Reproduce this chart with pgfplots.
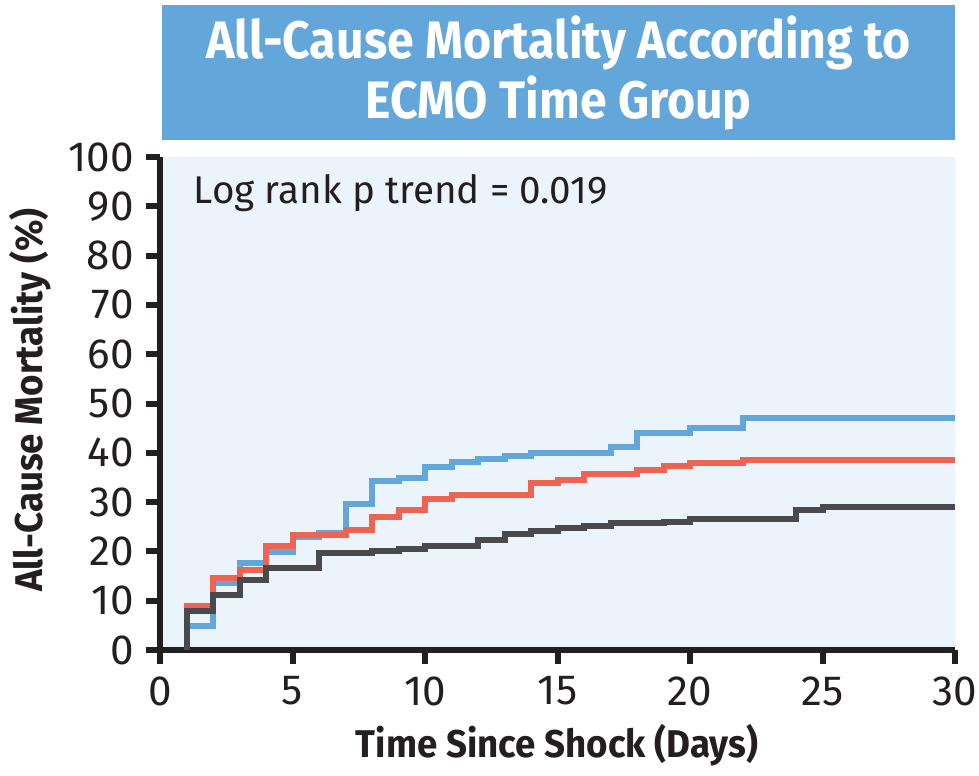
\documentclass[border=0pt]{standalone}
\usepackage{fontspec}
\setmainfont{Fira Sans}
\newfontfamily\titlefont[FakeStretch=0.915]{Fira Sans Bold}
\newfontfamily\labelfont[FakeStretch=0.95]{Fira Sans Bold}
\usepackage{pgfplots}
\pgfplotsset{compat=1.18}
\definecolor{titleblue}{HTML}{62A6DA}
\definecolor{bgblue}{HTML}{EBF3FB}
\definecolor{cblue}{HTML}{62A6DA}
\definecolor{cred}{HTML}{EE6352}
\definecolor{cgray}{HTML}{4A4A4C}
\definecolor{axblack}{HTML}{231F20}
\begin{document}
\begin{tikzpicture}
\path[use as bounding box] (0,0) rectangle (97.9mm,77.5mm);
\fill[titleblue] (16.2mm,63.5mm) rectangle (95.5mm,77.0mm);
\node[text=white, align=center, font=\titlefont\fontsize{15}{17}\selectfont] at (55.85mm,70.2mm) {All-Cause Mortality According to\\ECMO Time Group};
\begin{axis}[
  at={(16mm,12.5mm)}, anchor=south west,
  scale only axis, width=79.5mm, height=49.3mm,
  xmin=0, xmax=30, ymin=0, ymax=100,
  axis x line=bottom, axis y line=left,
  axis line style={line width=0.6mm, color=axblack, -},
  axis background/.style={fill=bgblue},
  xtick={0,5,...,30}, ytick={0,10,...,100},
  tick align=outside, major tick length=1.4mm,
  tick style={line width=0.6mm, color=axblack},
  ticklabel style={font=\fontsize{12}{14}\selectfont, text=axblack},
  /pgf/number format/assume math mode=true,
  clip=false,
]
\addplot[const plot, cblue, line width=0.6mm] coordinates {
(1,0)(1,4.9)(2,13.6)(3,17.6)(4,19.9)(5,23.0)(6,23.7)(7,29.6)(8,34.3)(9,34.9)(10,37.2)(11,38.2)(12,38.7)(13,39.4)(14,39.9)(17,41.1)(18,44.0)(20,45.0)(22,47.1)(30,47.1)};
\addplot[const plot, cred, line width=0.6mm] coordinates {
(1,0)(1,8.9)(2,14.7)(3,16.2)(4,21.0)(5,23.3)(7,24.3)(8,27.0)(9,28.4)(10,30.6)(11,31.4)(14,33.8)(15,34.5)(16,35.8)(18,36.6)(19,37.4)(20,37.9)(22,38.5)(30,38.5)};
\addplot[const plot, cgray, line width=0.6mm] coordinates {
(1,0)(1,7.9)(2,11.2)(3,14.3)(4,16.7)(6,19.6)(8,20.1)(9,20.5)(10,21.0)(12,22.3)(13,23.5)(14,24.1)(15,24.7)(16,25.2)(17,25.7)(19,26.0)(20,26.6)(24,28.4)(25,29.0)(30,29.0)};
\end{axis}
\node[anchor=base west, font=\fontsize{11}{13}\selectfont, text=axblack, inner sep=0] at (19.3mm,57.2mm) {Log rank p trend = 0.019};
\node[rotate=90, font=\labelfont\fontsize{11}{13}\selectfont, text=axblack] at (3.0mm,37.5mm) {All-Cause Mortality (\%)};
\node[font=\labelfont\fontsize{11}{13}\selectfont, text=axblack] at (55.7mm,3.0mm) {Time Since Shock (Days)};
\end{tikzpicture}
\end{document}
